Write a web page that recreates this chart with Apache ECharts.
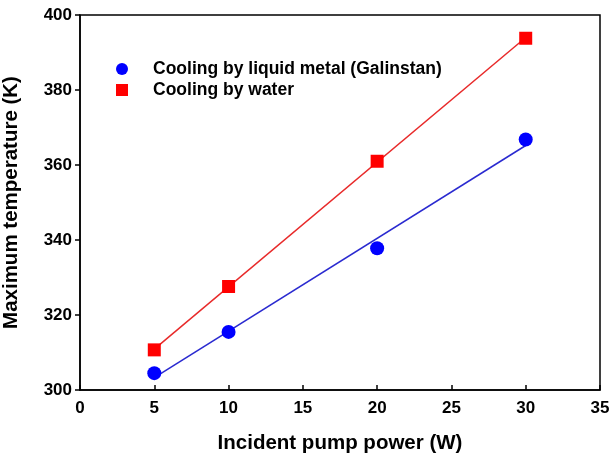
<!DOCTYPE html>
<html><head><meta charset="utf-8">
<script src="https://cdn.jsdelivr.net/npm/echarts@6/dist/echarts.min.js"></script>
<style>html,body{margin:0;padding:0;background:#fff}#c{width:613px;height:457px}</style>
</head><body><div id="c"></div>
<script>
const xTicks = [0, 5, 10, 15, 20, 25, 30, 35];
const yTicks = [300, 320, 340, 360, 380, 400];
const power = [5, 10, 20, 30];
const galinstanTemp = [304.5, 315.5, 337.8, 366.8];
const waterTemp = [310.7, 327.6, 361.0, 393.8];
const galinstanFitX = [5, 30];
const galinstanFitY = [303.3, 365.2];
const waterFitX = [5, 30];
const waterFitY = [310.9, 394.0];
const nameGalinstan = 'Cooling by liquid metal (Galinstan)';
const nameWater = 'Cooling by water';

const font = 'Arial, "Liberation Sans", sans-serif';
const pair = (xs, ys) => xs.map((x, i) => [x, ys[i]]);

const chart = echarts.init(document.getElementById('c'));
chart.setOption({
  animation: false,
  grid: { left: 80, right: 13, top: 15, bottom: 67, containLabel: false, outerBoundsMode: 'none', show: true, borderColor: '#000', borderWidth: 1.5, backgroundColor: 'transparent' },
  legend: {
    orient: 'vertical', left: 111, top: 55, itemGap: 3, itemWidth: 12, itemHeight: 12,
    data: [{ name: nameGalinstan, icon: 'circle' }, { name: nameWater, icon: 'rect' }],
    textStyle: { fontFamily: font, fontWeight: 'bold', fontSize: 17.5, color: '#000', padding: [0, 0, 0, 20] }
  },
  xAxis: {
    type: 'value', min: 0, max: 35, interval: 5,
    name: 'Incident pump power (W)', nameLocation: 'middle', nameGap: 43,
    nameTextStyle: { fontFamily: font, fontWeight: 'bold', fontSize: 20.5, color: '#000' },
    axisLine: { lineStyle: { color: '#000', width: 1.5 } },
    axisTick: { inside: true, length: 5, lineStyle: { color: '#000', width: 1.5 } },
    axisLabel: { fontFamily: font, fontWeight: 'bold', fontSize: 17, color: '#000', margin: 10 },
    splitLine: { show: false }
  },
  yAxis: {
    type: 'value', min: 300, max: 400, interval: 20,
    name: 'Maximum temperature (K)', nameLocation: 'middle', nameGap: 58,
    nameTextStyle: { fontFamily: font, fontWeight: 'bold', fontSize: 20.5, color: '#000' },
    axisLine: { show: true, lineStyle: { color: '#000', width: 1.5 } },
    axisTick: { show: true, inside: false, length: 5, lineStyle: { color: '#000', width: 1.5 } },
    axisLabel: { fontFamily: font, fontWeight: 'bold', fontSize: 17, color: '#000', margin: 8 },
    splitLine: { show: false }
  },
  series: [
    { name: 'fitG', type: 'line', data: pair(galinstanFitX, galinstanFitY), symbol: 'none', lineStyle: { color: '#2a2ad0', width: 1.5 }, silent: true, z: 1 },
    { name: 'fitW', type: 'line', data: pair(waterFitX, waterFitY), symbol: 'none', lineStyle: { color: '#e82a2a', width: 1.5 }, silent: true, z: 1 },
    { name: nameGalinstan, type: 'scatter', data: pair(power, galinstanTemp), symbol: 'circle', symbolSize: 14, itemStyle: { color: '#0000ff', opacity: 1 }, z: 3 },
    { name: nameWater, type: 'scatter', data: pair(power, waterTemp), symbol: 'rect', symbolSize: 13, itemStyle: { color: '#ff0000', opacity: 1 }, z: 3 }
  ]
});
</script></body></html>
